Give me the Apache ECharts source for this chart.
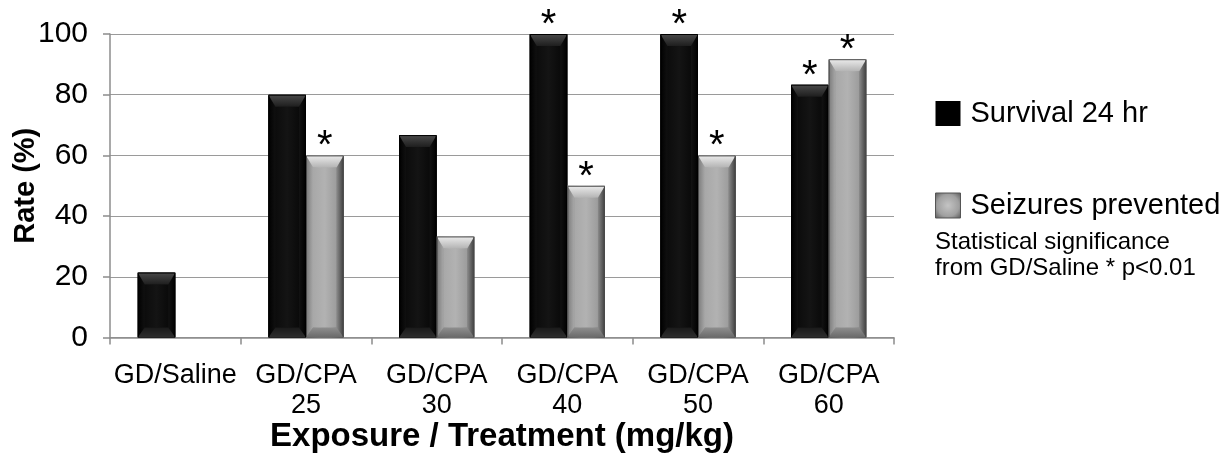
<!DOCTYPE html>
<html>
<head>
<meta charset="utf-8">
<script src="https://cdn.jsdelivr.net/npm/echarts@6/dist/echarts.min.js"></script>
<style>html,body{margin:0;padding:0;background:#fff;}#chart{width:1225px;height:456px;}</style>
</head>
<body>
<div id="chart"></div>
<script>
const categories = ['GD/Saline', 'GD/CPA\n25', 'GD/CPA\n30', 'GD/CPA\n40', 'GD/CPA\n50', 'GD/CPA\n60'];
const survival24hr = [21.4, 80, 66.7, 100, 100, 83.3];
const seizuresPrevented = [null, 60, 33.3, 50, 60, 91.7];
const sigSurvival = [false, false, false, true, true, true];
const sigSeizures = [false, true, false, true, true, true];
const seriesNames = ['Survival 24 hr', 'Seizures prevented'];
const yTicks = { min: 0, max: 100, interval: 20 };
const noteText = 'Statistical significance\nfrom GD/Saline * p<0.01';

const BAR_FRAC = 0.288;
const FONT = 'Liberation Sans, Arial, sans-serif';

function lg(x, y, x2, y2, stops) {
  return { type: 'linear', x: x, y: y, x2: x2, y2: y2, colorStops: stops.map((c, i) => ({ offset: i / (stops.length - 1), color: c })) };
}
const palettes = [
  { // black
    top: lg(0, 0, 0, 1, ['#4a4a4a', '#1e1e1e']),
    bottom: lg(0, 0, 0, 1, ['#1a1a1a', '#2e2e2e']),
    left: lg(0, 0, 1, 0, ['#000000', '#101010']),
    right: lg(0, 0, 1, 0, ['#121212', '#000000']),
    center: lg(0, 0, 1, 0, ['#0c0c0c', '#141414', '#0a0a0a']),
    stroke: '#000'
  },
  { // gray
    top: lg(0, 0, 0, 1, ['#ececec', '#b4b4b4']),
    bottom: lg(0, 0, 0, 1, ['#8e8e8e', '#6a6a6a']),
    left: lg(0, 0, 1, 0, ['#7a7a7a', '#a8a8a8']),
    right: lg(0, 0, 1, 0, ['#8a8a8a', '#3e3e3e']),
    center: lg(0, 0, 1, 0, ['#a8a8a8', '#b2b2b2', '#9c9c9c']),
    stroke: '#4a4a4a'
  }
];

const overlayData = [];
survival24hr.forEach((v, i) => { if (v != null) overlayData.push([i, v, 0]); });
seizuresPrevented.forEach((v, i) => { if (v != null) overlayData.push([i, v, 1]); });

function renderBevel(params, api) {
  const cat = api.value(0), v = api.value(1), s = api.value(2);
  const base = api.coord([cat, 0]);
  const top = api.coord([cat, v]);
  const band = api.size([1, 0])[0];
  const bw = band * BAR_FRAC;
  const x0 = base[0] - bw + s * bw, x1 = x0 + bw;
  const y0 = top[1], y1 = base[1];
  const h = y1 - y0;
  const b = 7, t = Math.min(12, h / 3), bb = Math.min(10, h / 3);
  const xi0 = x0 + b, xi1 = x1 - b, yi0 = y0 + t, yi1 = y1 - bb;
  const p = palettes[s];
  return {
    type: 'group',
    children: [
      { type: 'rect', shape: { x: xi0, y: yi0, width: xi1 - xi0, height: yi1 - yi0 }, style: { fill: p.center } },
      { type: 'polygon', shape: { points: [[x0, y0], [xi0, yi0], [xi0, yi1], [x0, y1]] }, style: { fill: p.left } },
      { type: 'polygon', shape: { points: [[x1, y0], [x1, y1], [xi1, yi1], [xi1, yi0]] }, style: { fill: p.right } },
      { type: 'polygon', shape: { points: [[x0, y1], [x1, y1], [xi1, yi1], [xi0, yi1]] }, style: { fill: p.bottom } },
      { type: 'polygon', shape: { points: [[x0, y0], [x1, y0], [xi1, yi0], [xi0, yi0]] }, style: { fill: p.top } },
      { type: 'rect', shape: { x: x0 + 0.5, y: y0 + 0.5, width: bw - 1, height: h - 0.5 }, style: { fill: 'none', stroke: p.stroke, lineWidth: 1 } }
    ]
  };
}

function starLabel(sig) {
  return {
    show: true, position: 'top', distance: -12,
    formatter: (pr) => sig[pr.dataIndex] ? '*' : '',
    fontSize: 40, color: '#000', fontFamily: FONT
  };
}

const chart = echarts.init(document.getElementById('chart'), null, { renderer: 'canvas' });
chart.setOption({
  animation: false,
  backgroundColor: '#fff',
  textStyle: { fontFamily: FONT },
  grid: { left: 110, right: 331, top: 34, bottom: 118.5, containLabel: false, outerBoundsMode: 'none' },
  legend: {
    orient: 'vertical', left: 930, top: 94,
    itemWidth: 25, itemHeight: 25, itemGap: 63,
    icon: 'rect',
    textStyle: { fontSize: 29, color: '#000', fontFamily: FONT, padding: [0, 0, 0, 5] },
    data: [
      { name: seriesNames[0], itemStyle: { color: '#000' } },
      { name: seriesNames[1], itemStyle: { color: { type: 'radial', x: 0.5, y: 0.5, r: 0.7, colorStops: [{ offset: 0, color: '#c4c4c4' }, { offset: 0.6, color: '#a0a0a0' }, { offset: 1, color: '#555' }] }, borderColor: '#555', borderWidth: 1 } }
    ]
  },
  graphic: [{
    type: 'text', left: 935, top: 229,
    style: { text: noteText, fontSize: 24, lineHeight: 26, fill: '#000', fontFamily: FONT }
  }],
  xAxis: {
    type: 'category', data: categories,
    axisLine: { lineStyle: { color: '#8c8c8c', width: 1.5 } },
    axisTick: { show: true, length: 7, lineStyle: { color: '#8c8c8c', width: 1.5 } },
    axisLabel: { fontSize: 27, color: '#000', margin: 23, lineHeight: 30, interval: 0, fontFamily: FONT },
    name: 'Exposure / Treatment (mg/kg)', nameLocation: 'middle', nameGap: 83, nameMoveOverlap: false,
    nameTextStyle: { fontSize: 33, fontWeight: 'bold', color: '#000', fontFamily: FONT }
  },
  yAxis: {
    type: 'value', min: yTicks.min, max: yTicks.max, interval: yTicks.interval,
    axisLine: { show: true, lineStyle: { color: '#8c8c8c', width: 1.5 } },
    axisTick: { show: true, length: 7, lineStyle: { color: '#8c8c8c', width: 1.5 } },
    splitLine: { lineStyle: { color: '#9a9a9a', width: 1.2 } },
    axisLabel: { fontSize: 30, color: '#000', margin: 22, fontFamily: FONT },
    name: 'Rate (%)', nameLocation: 'middle', nameGap: 70, nameMoveOverlap: false,
    nameTextStyle: { fontSize: 29, fontWeight: 'bold', color: '#000', fontFamily: FONT }
  },
  series: [
    {
      name: seriesNames[0], type: 'bar', data: survival24hr,
      barWidth: (BAR_FRAC * 100) + '%', barGap: '0%',
      itemStyle: { color: '#0a0a0a' },
      label: starLabel(sigSurvival), z: 2
    },
    {
      name: seriesNames[1], type: 'bar', data: seizuresPrevented,
      barWidth: (BAR_FRAC * 100) + '%', barGap: '0%',
      itemStyle: { color: lg(0, 0, 1, 0, ['#6a6a6a', '#b0b0b0', '#a8a8a8', '#4a4a4a']) },
      label: starLabel(sigSeizures), z: 2
    },
    {
      name: 'bevel', type: 'custom', data: overlayData, renderItem: renderBevel,
      encode: { x: 0, y: 1 }, silent: true, z: 3, clip: true
    }
  ]
});
</script>
</body>
</html>
